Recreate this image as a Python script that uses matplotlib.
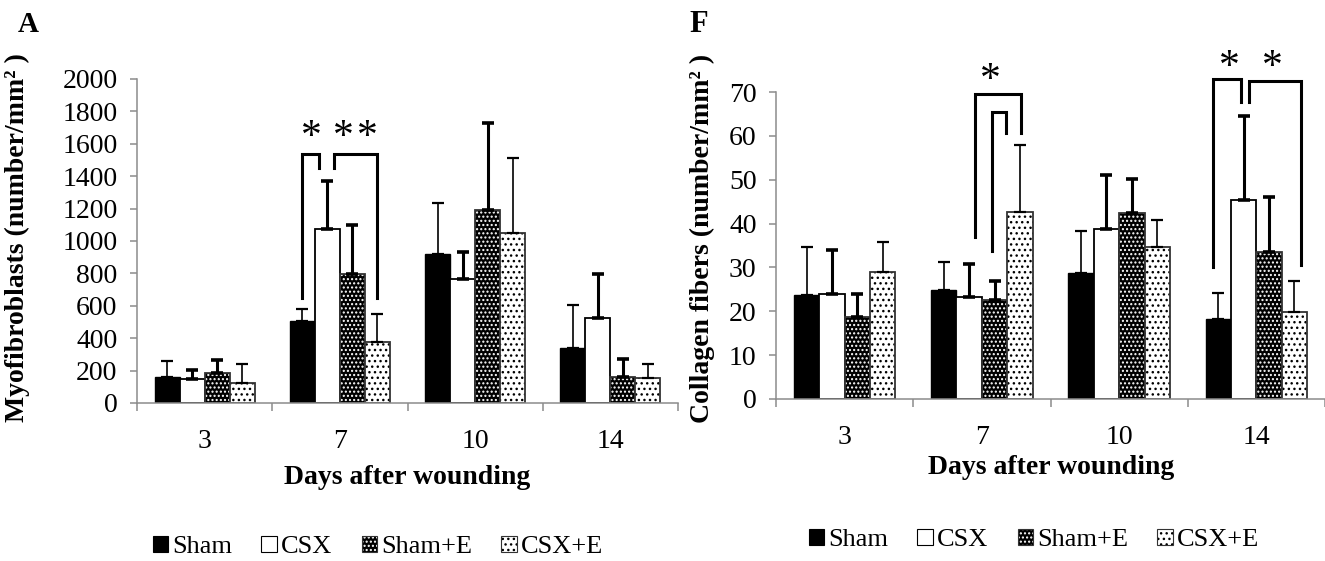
import numpy as np
import matplotlib
matplotlib.use("Agg")
import matplotlib.pyplot as plt
from matplotlib.patches import Patch
from matplotlib.legend_handler import HandlerTuple

# ---------------------------------------------------------------------------
# Data: mean and upper SD per group, per day
# ---------------------------------------------------------------------------
days = ["3", "7", "10", "14"]
groups = ["Sham", "CSX", "Sham+E", "CSX+E"]

# Panel A - myofibroblasts (number/mm2)
myo_sham = [160, 506, 920, 340]
myo_csx = [148, 1074, 765, 525]
myo_sham_e = [185, 796, 1191, 160]
myo_csx_e = [123, 377, 1049, 154]
myo_sham_sd = [100, 74, 315, 265]
myo_csx_sd = [56, 296, 167, 271]
myo_sham_e_sd = [80, 302, 537, 112]
myo_csx_e_sd = [117, 172, 463, 86]

# Panel F - collagen fibers (number/mm2)
col_sham = [23.7, 24.8, 28.8, 18.2]
col_csx = [24.0, 23.3, 38.7, 45.4]
col_sham_e = [18.6, 22.6, 42.3, 33.6]
col_csx_e = [29.0, 42.6, 34.7, 19.9]
col_sham_sd = [11.0, 6.5, 9.5, 5.9]
col_csx_sd = [10.0, 7.5, 12.3, 19.1]
col_sham_e_sd = [5.4, 4.4, 7.9, 12.4]
col_csx_e_sd = [6.8, 15.4, 6.2, 7.1]

plt.rcParams['font.family'] = ['Liberation Serif', 'DejaVu Serif']
plt.rcParams['hatch.linewidth'] = 1.0

W = 0.185
OFFS = (np.arange(4) - 1.5) * W
GRAY = '#8c8c8c'
DARK_HATCH = '....'
LIGHT_HATCH = '...'


def draw_bars(ax, means, sds):
    x0 = np.arange(len(days))
    err_lw = [1.2, 2.2, 2.2, 1.2]
    for i, g in enumerate(groups):
        x = x0 + OFFS[i]
        m = np.array(means[i])
        if g == "Sham":
            ax.bar(x, m, W, color='black', edgecolor='black', lw=1, zorder=2)
        elif g == "CSX":
            ax.bar(x, m, W, color='white', edgecolor='black', lw=1.3, zorder=2)
        elif g == "Sham+E":
            ax.bar(x, m, W, color='black', edgecolor='white', hatch=DARK_HATCH,
                   lw=0, zorder=2)
            ax.bar(x, m, W, fill=False, edgecolor='#333333', lw=1.3, zorder=2)
        else:
            ax.bar(x, m, W, color='white', edgecolor='black', hatch=LIGHT_HATCH,
                   lw=0, zorder=2)
            ax.bar(x, m, W, fill=False, edgecolor='#333333', lw=1.3, zorder=2)
        ax.errorbar(x, m, yerr=[np.zeros(len(m)), sds[i]], fmt='none',
                    ecolor='black', elinewidth=err_lw[i], capsize=4.3,
                    capthick=err_lw[i] + 0.4, zorder=3)


def style_axes(ax, ymax, ystep, fs):
    ax.set_xlim(-0.5, len(days) - 0.5)
    ax.set_ylim(0, ymax)
    ax.set_yticks(np.arange(0, ymax + ystep / 2, ystep))
    ax.set_xticks(np.arange(len(days)))
    ax.set_xticklabels(days)
    ax.set_xticks(np.arange(len(days) + 1) - 0.5, minor=True)
    for s in ['top', 'right']:
        ax.spines[s].set_visible(False)
    for s in ['left', 'bottom']:
        ax.spines[s].set_color(GRAY)
        ax.spines[s].set_linewidth(1.1)
    ax.tick_params(axis='x', which='major', length=0, pad=19, labelsize=fs)
    ax.tick_params(axis='x', which='minor', length=6, color=GRAY, width=1.1,
                   direction='out')
    ax.tick_params(axis='y', length=5, color=GRAY, width=1.1, pad=9,
                   labelsize=fs)


def bracket(ax, xa, xb, ya, ytop, yb):
    ax.plot([xa, xa, xb, xb], [ya, ytop, ytop, yb], color='black', lw=2.2,
            clip_on=False, solid_joinstyle='miter', zorder=4)


def star(ax, x, y, s="*", fs=30):
    ax.text(x, y, s, ha='center', va='center', fontsize=fs, clip_on=False)


fig = plt.figure(figsize=(13.25, 5.61), dpi=100)
FW, FH = 1325.0, 561.0

# --- Panel A ---
ax1 = fig.add_axes([137 / FW, 1 - 403 / FH, 541 / FW, 324 / FH])
draw_bars(ax1, [myo_sham, myo_csx, myo_sham_e, myo_csx_e],
          [myo_sham_sd, myo_csx_sd, myo_sham_e_sd, myo_csx_e_sd])
style_axes(ax1, 2000, 200, 20)
bracket(ax1, 1 + OFFS[0], 1 + OFFS[1] - W / 2 + 0.03, 648, 1537, 1450)
bracket(ax1, 1 + OFFS[1] + W / 2 - 0.04, 1 + OFFS[3], 1450, 1537, 648)
star(ax1, 0.79, 1640)
star(ax1, 1.026, 1640)
star(ax1, 1.204, 1640)

fig.text(17 / FW, 1 - 238 / FH, "Myofibroblasts (number/mm² )", rotation=90,
         ha='center', va='center', fontsize=20, fontweight='bold')
fig.text(407 / FW, 1 - 478 / FH, "Days after wounding", ha='center',
         va='center', fontsize=20, fontweight='bold')
fig.text(28 / FW, 1 - 25 / FH, "A", ha='center', va='center', fontsize=21,
         fontweight='bold')

# --- Panel F ---
ax2 = fig.add_axes([776 / FW, 1 - 399 / FH, 549 / FW, 307 / FH])
draw_bars(ax2, [col_sham, col_csx, col_sham_e, col_csx_e],
          [col_sham_sd, col_csx_sd, col_sham_e_sd, col_csx_e_sd])
style_axes(ax2, 70, 10, 20)
bracket(ax2, 1 + OFFS[1] + 0.04, 1 + OFFS[3] + 0.01, 37.0, 69.5, 60.6)
bracket(ax2, 1 + OFFS[2] - 0.02, 1 + OFFS[3] - W / 2 - 0.01, 33.7, 65.5, 60.6)
star(ax2, 1.064, 72.5)
bracket(ax2, 3 + OFFS[0] - 0.04, 3 + OFFS[1] - 0.02, 30.2, 72.9, 67.8)
bracket(ax2, 3 + OFFS[1] + 0.04, 3 + OFFS[3] + 0.05, 67.8, 72.6, 30.5)
star(ax2, 2.80, 75.5)
star(ax2, 3.115, 75.5)

fig.text(702 / FW, 1 - 238 / FH, "Collagen fibers (number/mm² )", rotation=90,
         ha='center', va='center', fontsize=20, fontweight='bold')
fig.text(1051 / FW, 1 - 468 / FH, "Days after wounding", ha='center',
         va='center', fontsize=20, fontweight='bold')
fig.text(699 / FW, 1 - 25 / FH, "F", ha='center', va='center', fontsize=22,
         fontweight='bold')

# --- Legends ---
handles = [
    Patch(facecolor='black', edgecolor='black', lw=0.8),
    Patch(facecolor='white', edgecolor='black', lw=0.8),
    (Patch(facecolor='black', edgecolor='white', hatch=DARK_HATCH, lw=0),
     Patch(fill=False, edgecolor='#333333', lw=0.8)),
    (Patch(facecolor='white', edgecolor='black', hatch=LIGHT_HATCH, lw=0),
     Patch(fill=False, edgecolor='#333333', lw=0.8)),
]
for cx, cy in [(378, 547), (1034, 540)]:
    fig.legend(handles, groups, loc='center',
               bbox_to_anchor=(cx / FW, 1 - cy / FH), ncol=4, frameon=False,
               fontsize=19, handlelength=0.6, handleheight=0.6,
               handletextpad=0.15, columnspacing=1.1,
               handler_map={tuple: HandlerTuple(ndivide=1, pad=0)})

fig.savefig("out.png", dpi=100)
